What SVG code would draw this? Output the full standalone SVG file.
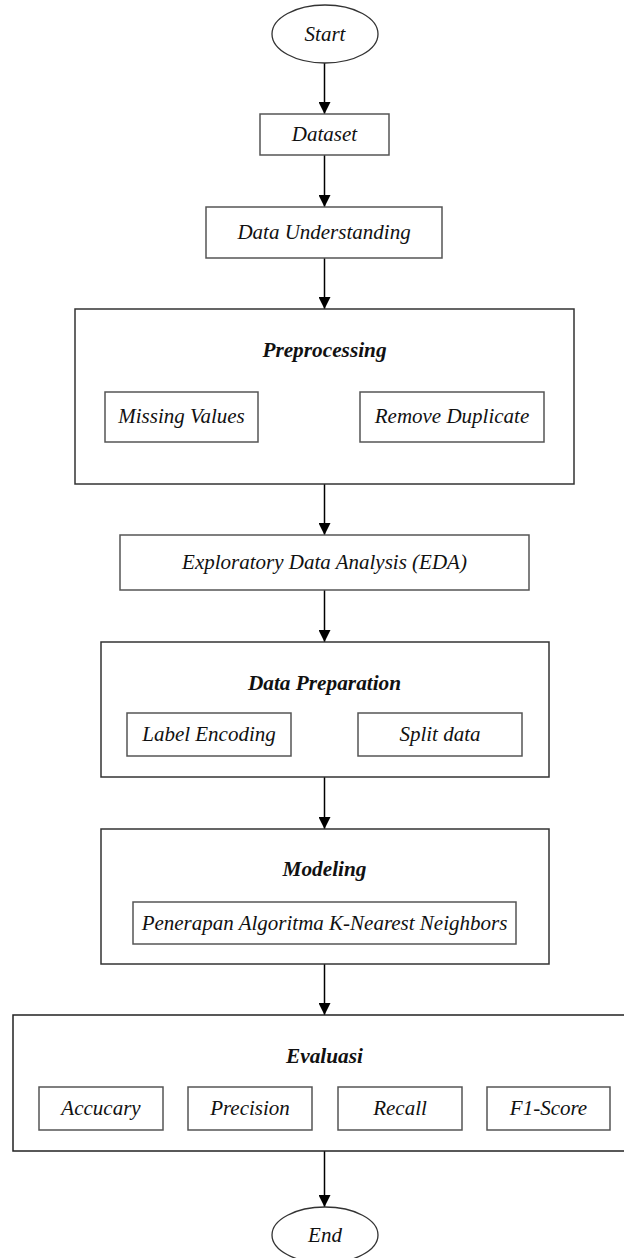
<svg xmlns="http://www.w3.org/2000/svg" width="624" height="1258" viewBox="0 0 624 1258">
<defs>
<marker id="ah" markerWidth="12" markerHeight="12" refX="10" refY="5" orient="auto" markerUnits="userSpaceOnUse" viewBox="0 0 10 10">
<path d="M0,0 L10,5 L0,10 Z" fill="#000"/>
</marker>
<style>
.box{fill:#fff;stroke:#555;stroke-width:1.5}
.outer{fill:#fff;stroke:#333;stroke-width:1.5}
.t{font-family:"Liberation Serif","Times New Roman",serif;font-style:italic;font-size:21px;fill:#111;text-anchor:middle}
.h{font-family:"Liberation Serif","Times New Roman",serif;font-style:italic;font-weight:bold;font-size:21.3px;fill:#111;text-anchor:middle}
.c{stroke:#000;stroke-width:1.5;fill:none;marker-end:url(#ah)}
</style>
</defs>
<rect width="624" height="1258" fill="#fff"/>
<g id="connectors">
<line class="c" x1="324.5" y1="63" x2="324.5" y2="114"/>
<line class="c" x1="324.5" y1="155" x2="324.5" y2="207"/>
<line class="c" x1="324.5" y1="258" x2="324.5" y2="309"/>
<line class="c" x1="324.5" y1="484" x2="324.5" y2="535"/>
<line class="c" x1="324.5" y1="590" x2="324.5" y2="642"/>
<line class="c" x1="324.5" y1="777" x2="324.5" y2="829"/>
<line class="c" x1="324.5" y1="964" x2="324.5" y2="1015"/>
<line class="c" x1="324.5" y1="1151" x2="324.5" y2="1207"/>
</g>
<g id="start">
<ellipse cx="325" cy="34" rx="53" ry="29" fill="#fff" stroke="#333" stroke-width="1.3"/>
<text class="t" x="325" y="41">Start</text>
</g>
<g id="dataset">
<rect class="box" x="260" y="114" width="129" height="41"/>
<text class="t" x="324.5" y="141">Dataset</text>
</g>
<g id="data-understanding">
<rect class="box" x="206" y="207" width="236" height="51"/>
<text class="t" x="324" y="239">Data Understanding</text>
</g>
<g id="preprocessing">
<rect class="outer" x="75" y="309" width="499" height="175"/>
<text class="h" x="324.5" y="357">Preprocessing</text>
<g id="missing-values">
<rect class="box" x="105" y="392" width="153" height="50"/>
<text class="t" x="181.5" y="423">Missing Values</text>
</g>
<g id="remove-duplicate">
<rect class="box" x="360" y="392" width="184" height="50"/>
<text class="t" x="452" y="423">Remove Duplicate</text>
</g>
</g>
<g id="eda">
<rect class="box" x="120" y="535" width="409" height="55"/>
<text class="t" x="324.5" y="569">Exploratory Data Analysis (EDA)</text>
</g>
<g id="data-preparation">
<rect class="outer" x="101" y="642" width="448" height="135"/>
<text class="h" x="324.5" y="690">Data Preparation</text>
<g id="label-encoding">
<rect class="box" x="127" y="713" width="164" height="43"/>
<text class="t" x="209" y="741">Label Encoding</text>
</g>
<g id="split-data">
<rect class="box" x="358" y="713" width="164" height="43"/>
<text class="t" x="440" y="741">Split data</text>
</g>
</g>
<g id="modeling">
<rect class="outer" x="101" y="829" width="448" height="135"/>
<text class="h" x="324.5" y="876">Modeling</text>
<g id="knn">
<rect class="box" x="133" y="902" width="383" height="42"/>
<text class="t" x="324.5" y="930">Penerapan Algoritma K-Nearest Neighbors</text>
</g>
</g>
<g id="evaluasi">
<rect x="13" y="1015" width="630" height="136" fill="#fff" stroke="#222" stroke-width="1.5"/>
<text class="h" x="324.5" y="1063">Evaluasi</text>
<g id="accuracy">
<rect class="box" x="39" y="1087" width="124" height="43"/>
<text class="t" x="101" y="1115">Accucary</text>
</g>
<g id="precision">
<rect class="box" x="188" y="1087" width="124" height="43"/>
<text class="t" x="250" y="1115">Precision</text>
</g>
<g id="recall">
<rect class="box" x="338" y="1087" width="124" height="43"/>
<text class="t" x="400" y="1115">Recall</text>
</g>
<g id="f1-score">
<rect class="box" x="487" y="1087" width="123" height="43"/>
<text class="t" x="548.5" y="1115">F1-Score</text>
</g>
</g>
<g id="end">
<ellipse cx="325" cy="1235" rx="53" ry="28" fill="#fff" stroke="#333" stroke-width="1.3"/>
<text class="t" x="325" y="1242">End</text>
</g>
</svg>
